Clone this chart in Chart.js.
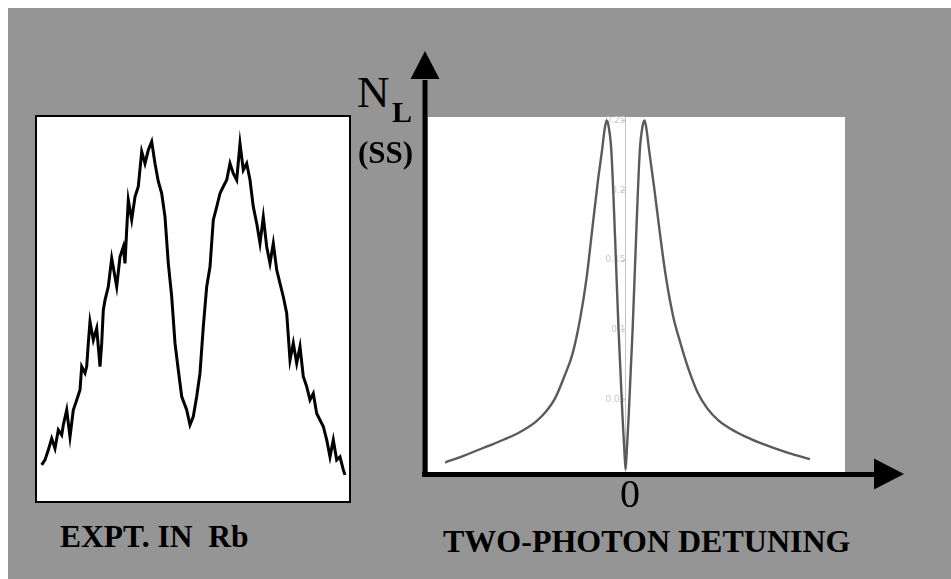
<!DOCTYPE html>
<html>
<head>
<meta charset="utf-8">
<script src="https://cdn.jsdelivr.net/npm/chart.js@4.4.1/dist/chart.umd.min.js"></script>
<style>
  html, body { margin: 0; padding: 0; background: #ffffff; }
  body { width: 951px; height: 579px; position: relative; overflow: hidden; }
  #bg { position: absolute; left: 8px; top: 8px; width: 943px; height: 571px; background: #959595; }
  .abs { position: absolute; }
  .t { position: absolute; font-family: "Liberation Serif", "Times New Roman", serif; color: #000; line-height: 1; white-space: pre; }
  #leftBox { left: 35px; top: 115px; width: 316px; height: 388px; box-sizing: border-box; border: 2px solid #000; background: #fff; }
  #leftWrap { left: 37px; top: 117px; width: 312px; height: 384px; }
  #rightWrap { left: 400px; top: 40px; width: 520px; height: 450px; }
</style>
</head>
<body>
<div id="bg"></div>
<div id="leftBox" class="abs"></div>
<div id="leftWrap" class="abs"><canvas id="leftChart"></canvas></div>
<div id="rightWrap" class="abs"><canvas id="rightChart"></canvas></div>

<div class="t" style="left:357px; top:70px; font-size:45px;">N</div>
<div class="t" style="left:392px; top:97px; font-size:30px; font-weight:bold;">L</div>
<div class="t" style="left:358px; top:137px; font-size:31px; font-weight:bold;">(SS)</div>
<div class="t" style="left:600px; top:474px; width:60px; text-align:center; font-size:40px;">0</div>
<div class="t" style="left:443px; top:525px; font-size:32px; font-weight:bold;">TWO-PHOTON DETUNING</div>
<div class="t" style="left:60px; top:521px; font-size:31.5px; font-weight:bold;">EXPT. IN  Rb</div>

<script>
// ---- Left panel: experimental trace in Rb (arbitrary units) ----
const exptX = [4.7, 8, 11.3, 14.7, 18, 21.3, 24.7, 26.3, 29.7, 33, 36.3, 39.7, 43, 44.7, 48, 49.7, 51.3, 53, 56.3, 59.7,
  63, 64.7, 66.3, 68, 71.3, 74.7, 79.7, 83, 86.3, 88, 89.7, 91.3, 94.7, 98, 101.3, 104.7, 108, 111.3, 114.7, 118,
  121.3, 124.7, 128, 131.3, 134.7, 138, 141.3, 144.7, 149.7, 153, 156.3, 159.7, 163, 166.3, 169.7, 173, 176.3, 179.7, 183, 186.3,
  189.7, 193, 196.3, 199.7, 203, 206.3, 209.7, 213, 216.3, 219.7, 223, 226.3, 229.7, 233, 236.3, 239.7, 243, 246.3, 249.7, 253,
  256.3, 259.7, 263, 266.3, 269.7, 273, 276.3, 279.7, 283, 286.3, 289.7, 293, 296.3, 299.7, 303, 306.3, 308];
const exptSignal = [9.4, 10.7, 13.3, 16.3, 13.7, 18.5, 17.2, 19.8, 23.7, 16.7, 23.7, 26.3, 28.9, 35.0, 33.3, 35.0, 41.1, 46.7, 41.9, 45.0,
  35.0, 41.1, 49.7, 52.3, 55.8, 63.2, 55.8, 63.6, 66.2, 61.9, 70.6, 78.4, 73.2, 79.2, 81.9, 91.0, 87.9, 91.4, 93.6, 87.9,
  83.2, 80.1, 74.0, 61.9, 53.2, 41.1, 34.1, 27.2, 23.7, 19.8, 22.0, 27.2, 33.3, 45.4, 55.8, 61.0, 73.2, 76.6, 80.1, 81.9,
  83.6, 87.9, 85.3, 83.6, 93.1, 86.2, 87.9, 83.6, 76.6, 72.3, 67.1, 74.0, 66.2, 61.9, 67.1, 60.2, 56.7, 53.2, 48.9, 36.7,
  41.1, 35.9, 40.2, 32.4, 29.8, 26.3, 28.0, 22.8, 21.1, 19.4, 15.9, 11.5, 15.9, 10.7, 11.5, 8.1, 6.8];

// ---- Right panel: theoretical N_L (SS) vs two-photon detuning ----
const detuning = [-9.5, -8.5, -7.3, -6.4, -5.6, -4.7, -4.2, -3.7, -3.2, -2.8, -2.4, -2.05, -1.75, -1.45, -1.25, -1.1, -1.0,
  -0.9, -0.75, -0.55, -0.37, -0.16, -0.06, 0,
  0.06, 0.16, 0.37, 0.55, 0.75, 0.9,
  1.0, 1.1, 1.25, 1.5, 1.8, 2.1, 2.5, 2.9, 3.3, 3.8, 4.3, 4.9, 5.8, 6.6, 7.5, 8.6, 9.7];
const nlSS = [0.005, 0.01, 0.0165, 0.0215, 0.0265, 0.0345, 0.0413, 0.0513, 0.0675, 0.0825, 0.1075, 0.1375, 0.1725, 0.2075, 0.2275, 0.2438, 0.25,
  0.2463, 0.2285, 0.165, 0.10, 0.0375, 0.0125, 0,
  0.0125, 0.0375, 0.10, 0.165, 0.2285, 0.2463,
  0.25, 0.2438, 0.2275, 0.2025, 0.17, 0.14, 0.11, 0.09, 0.0725, 0.055, 0.0438, 0.035, 0.027, 0.0218, 0.017, 0.0118, 0.0075];
const nlTicks = [0.05, 0.1, 0.15, 0.2, 0.25];

function pts(xs, ys) { return xs.map((x, i) => ({ x: x, y: ys[i] })); }

new Chart(document.getElementById('leftChart'), {
  type: 'line',
  data: { datasets: [{ data: pts(exptX, exptSignal), borderColor: '#000', borderWidth: 3, pointRadius: 0, tension: 0, fill: false }] },
  options: {
    responsive: true, maintainAspectRatio: false, animation: false,
    layout: { padding: 0 },
    plugins: { legend: { display: false }, tooltip: { enabled: false } },
    scales: {
      x: { type: 'linear', min: 0, max: 312, display: false },
      y: { type: 'linear', min: 0, max: 100, display: false }
    }
  }
});

const arrowAxes = {
  id: 'arrowAxes',
  beforeDraw(chart) {
    const a = chart.chartArea, c = chart.ctx;
    c.save();
    c.fillStyle = '#ffffff';
    c.fillRect(a.left, a.top, a.right - a.left, a.bottom - a.top);
    c.restore();
  },
  afterDraw(chart) {
    const a = chart.chartArea, c = chart.ctx;
    const ax = a.left - 3, ay = a.bottom + 1.5;
    c.save();
    c.fillStyle = '#000'; c.strokeStyle = '#000'; c.lineWidth = 5; c.lineCap = 'butt';
    c.beginPath(); c.moveTo(ax, ay + 2.5); c.lineTo(ax, a.top - 37); c.stroke();
    c.beginPath(); c.moveTo(ax - 14.5, a.top - 38); c.lineTo(ax + 14.5, a.top - 38); c.lineTo(ax, a.top - 66); c.closePath(); c.fill();
    c.beginPath(); c.moveTo(ax - 3, ay); c.lineTo(a.right + 30, ay); c.stroke();
    c.beginPath(); c.moveTo(a.right + 29, ay - 16); c.lineTo(a.right + 29, ay + 15); c.lineTo(a.right + 59, ay - 0.5); c.closePath(); c.fill();
    c.restore();
  }
};

new Chart(document.getElementById('rightChart'), {
  type: 'line',
  data: { datasets: [{ data: pts(detuning, nlSS), borderColor: '#5a5a5a', borderWidth: 2.4, pointRadius: 0,
    cubicInterpolationMode: 'monotone', fill: false }] },
  options: {
    responsive: true, maintainAspectRatio: false, animation: false,
    layout: { padding: { left: 28, top: 77, right: 75, bottom: 17 } },
    plugins: { legend: { display: false }, tooltip: { enabled: false } },
    scales: {
      x: { type: 'linear', min: -10.4, max: 11.55, display: false },
      y: {
        type: 'linear', min: -0.0025, max: 0.2525, position: { x: 0 },
        afterBuildTicks(scale) { scale.ticks = nlTicks.map(v => ({ value: v })); },
        grid: { drawOnChartArea: false, drawTicks: true, tickLength: 4, color: '#cccccc' },
        border: { display: true, color: '#c4c4c4', dash: [2, 3], width: 1 },
        ticks: { color: '#c8c8c8', font: { family: 'DejaVu Sans', size: 9 }, padding: 2,
          callback: v => String(v) }
      }
    }
  },
  plugins: [arrowAxes]
});
</script>
</body>
</html>
